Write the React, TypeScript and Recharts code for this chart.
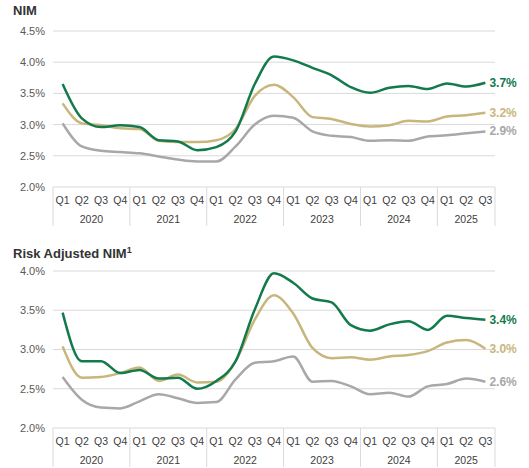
import { LineChart, Line, XAxis, YAxis, CartesianGrid } from "recharts";

const periods = [
  "2020 Q1", "2020 Q2", "2020 Q3", "2020 Q4",
  "2021 Q1", "2021 Q2", "2021 Q3", "2021 Q4",
  "2022 Q1", "2022 Q2", "2022 Q3", "2022 Q4",
  "2023 Q1", "2023 Q2", "2023 Q3", "2023 Q4",
  "2024 Q1", "2024 Q2", "2024 Q3", "2024 Q4",
  "2025 Q1", "2025 Q2", "2025 Q3",
];

const nimGreen = [3.65, 3.1, 2.96, 2.99, 2.96, 2.75, 2.73, 2.59, 2.64, 2.89, 3.65, 4.09, 4.03, 3.91, 3.79, 3.6, 3.51, 3.59, 3.62, 3.57, 3.66, 3.61, 3.67];
const nimTan = [3.34, 3.02, 2.99, 2.94, 2.93, 2.74, 2.72, 2.72, 2.75, 2.93, 3.46, 3.64, 3.44, 3.12, 3.09, 3.01, 2.97, 2.99, 3.06, 3.05, 3.13, 3.15, 3.19];
const nimGray = [3.02, 2.65, 2.58, 2.56, 2.54, 2.49, 2.44, 2.41, 2.41, 2.65, 3.0, 3.14, 3.11, 2.89, 2.82, 2.8, 2.74, 2.75, 2.74, 2.81, 2.83, 2.86, 2.89];

const ranGreen = [3.47, 2.85, 2.85, 2.7, 2.74, 2.63, 2.64, 2.5, 2.6, 2.85, 3.51, 3.97, 3.85, 3.65, 3.6, 3.31, 3.24, 3.32, 3.36, 3.25, 3.43, 3.4, 3.38];
const ranTan = [3.04, 2.64, 2.65, 2.7, 2.77, 2.6, 2.68, 2.58, 2.59, 2.85, 3.38, 3.69, 3.46, 3.02, 2.89, 2.9, 2.87, 2.91, 2.93, 2.98, 3.09, 3.12, 3.01];
const ranGray = [2.65, 2.36, 2.26, 2.25, 2.34, 2.43, 2.38, 2.32, 2.33, 2.62, 2.83, 2.85, 2.91, 2.59, 2.6, 2.53, 2.43, 2.45, 2.4, 2.53, 2.56, 2.63, 2.59];

const nimTicks = [2.0, 2.5, 3.0, 3.5, 4.0, 4.5];
const ranTicks = [2.0, 2.5, 3.0, 3.5, 4.0];

const GREEN = "#137a4c";
const TAN = "#c8b67c";
const GRAY = "#a8a8a8";
const FONT = "'Liberation Sans', Arial, sans-serif";

const WIDTH = 529;
const Y_W = 53;
const RIGHT = 34;
const PLOT_W = WIDTH - Y_W - RIGHT;

const toRows = (g: number[], t: number[], s: number[]) =>
  periods.map((p, i) => ({ period: p, green: g[i], tan: t[i], gray: s[i] }));

const nimData = toRows(nimGreen, nimTan, nimGray);
const ranData = toRows(ranGreen, ranTan, ranGray);

const QuarterTick = (props: any) => {
  const { x, y, payload } = props;
  const idx = payload.index;
  const [year, q] = periods[idx].split(" ");
  const step = PLOT_W / periods.length;
  const n = periods.filter((p) => p.startsWith(year)).length;
  const isLast = idx === periods.length - 1;
  return (
    <g>
      <text x={x} y={y + 17} textAnchor="middle" fontSize={10.5} fill="#404040" fontFamily={FONT}>
        {q}
      </text>
      {q === "Q1" && (
        <>
          <line x1={x - step / 2} x2={x - step / 2} y1={y} y2={y + 39} stroke="#d9d9d9" />
          <text x={x + ((n - 1) * step) / 2} y={y + 36} textAnchor="middle" fontSize={10.5} fill="#404040" fontFamily={FONT}>
            {year}
          </text>
        </>
      )}
      {isLast && <line x1={x + step / 2} x2={x + step / 2} y1={y} y2={y + 39} stroke="#d9d9d9" />}
    </g>
  );
};

const endLabel = (color: string) => (props: any) => {
  const { x, y, index, value } = props;
  if (index !== periods.length - 1) return null;
  return (
    <text x={x + 4} y={y} dy={4} fontSize={12} fontWeight="bold" fill={color} fontFamily={FONT}>
      {Number(value).toFixed(1)}%
    </text>
  );
};

function Panel({ data, ticks, height, top, axisH }: { data: any[]; ticks: number[]; height: number; top: number; axisH: number }) {
  return (
    <LineChart width={WIDTH} height={height} data={data} margin={{ top, right: RIGHT, bottom: 0, left: 0 }}>
      <CartesianGrid vertical={false} stroke="#d9d9d9" />
      <XAxis
        dataKey="period"
        scale="band"
        height={axisH}
        axisLine={false}
        tickLine={false}
        tickSize={0}
        tickMargin={0}
        interval={0}
        tick={<QuarterTick />}
      />
      <YAxis
        width={Y_W}
        domain={[ticks[0], ticks[ticks.length - 1]]}
        ticks={ticks}
        axisLine={false}
        tickLine={false}
        tickFormatter={(v: number) => `${v.toFixed(1)}%`}
        tick={{ fontSize: 11, fill: "#595959", fontFamily: FONT }}
      />
      <Line dataKey="gray" type="monotone" stroke={GRAY} strokeWidth={2.5} dot={false} isAnimationActive={false} label={endLabel(GRAY)} />
      <Line dataKey="tan" type="monotone" stroke={TAN} strokeWidth={2.5} dot={false} isAnimationActive={false} label={endLabel(TAN)} />
      <Line dataKey="green" type="monotone" stroke={GREEN} strokeWidth={2.5} dot={false} isAnimationActive={false} label={endLabel(GREEN)} />
    </LineChart>
  );
}

export default function App() {
  const title = { position: "absolute" as const, left: 13, fontFamily: FONT, fontWeight: 900, fontSize: 13, color: "#333", lineHeight: "16px" };
  return (
    <div style={{ position: "absolute", left: 0, top: 0, width: WIDTH, height: 468, background: "#fff", overflow: "hidden" }}>
      <div style={{ ...title, top: 3 }}>NIM</div>
      <div style={{ position: "absolute", left: 0, top: 0 }}>
        <Panel data={nimData} ticks={nimTicks} height={235} top={31} axisH={48} />
      </div>
      <div style={{ ...title, top: 242 }}>
        Risk Adjusted NIM<sup style={{ fontSize: 9 }}>1</sup>
      </div>
      <div style={{ position: "absolute", left: 0, top: 235 }}>
        <Panel data={ranData} ticks={ranTicks} height={233} top={36} axisH={40} />
      </div>
    </div>
  );
}
